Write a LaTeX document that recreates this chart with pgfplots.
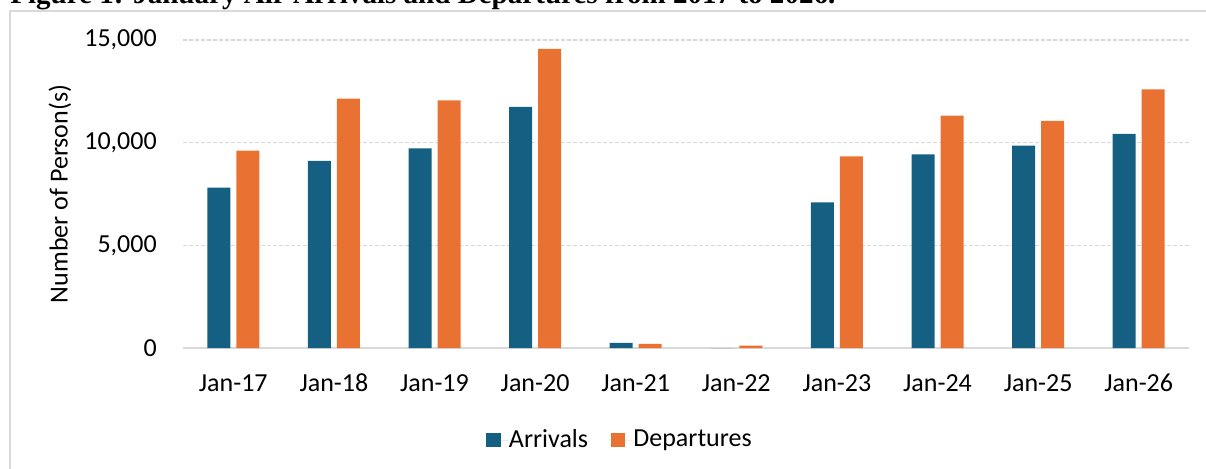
\documentclass[border=0pt]{standalone}
\usepackage{pgfplots}
\pgfplotsset{compat=1.18}
\usepackage{fontspec}
\setmainfont{Carlito}
\newfontfamily\titlefont{Liberation Serif}
\definecolor{arr}{HTML}{156082}
\definecolor{dep}{HTML}{E97132}
\definecolor{gridc}{HTML}{D9D9D9}
\begin{document}
\begin{tikzpicture}
\fontsize{19.5}{23}\selectfont
% frame
\draw[gridc, line width=1.2pt] (7.5pt,-10pt) -- (7.5pt,342.75pt) -- (930pt,342.75pt);
% title (partly cropped at top, as in the reference)
\node[anchor=base west, inner sep=0pt] at (7.5pt,348pt) {\titlefont\bfseries\fontsize{21.8}{26}\selectfont Figure 1: January Air Arrivals and Departures from 2017 to 2026.};
\begin{axis}[
  at={(137.25pt,90pt)}, anchor=south west,
  scale only axis, width=754.5pt, height=231pt,
  ybar=4.5pt, bar width=17.25pt,
  xmin=-0.5, xmax=9.5, ymin=0, ymax=15000,
  enlarge x limits=false, enlarge y limits=false,
  scaled y ticks=false,
  xtick=data,
  xticklabels={Jan-17,Jan-18,Jan-19,Jan-20,Jan-21,Jan-22,Jan-23,Jan-24,Jan-25,Jan-26},
  ytick={0,5000,10000,15000},
  yticklabels={0,{5,000},{10,000},{15,000}},
  major tick length=0pt,
  xticklabel style={inner sep=0pt, anchor=base, yshift=-32.25pt},
  yticklabel style={inner sep=0pt, anchor=east, xshift=-19.5pt},
  ymajorgrids, grid style={gridc, line width=1.1pt, dash pattern=on 3pt off 1.5pt},
  axis x line*=bottom, axis y line*=left,
  y axis line style={draw=none},
  x axis line style={gridc, line width=1.5pt},
  ylabel={Number of Person(s)},
  ylabel style={at={(axis description cs:-0.1223,0.5)}, anchor=center, inner sep=0pt},
  legend style={at={(axis description cs:0.4334,-0.2987)}, anchor=center, draw=none, fill=none,
    legend columns=2, /tikz/every even column/.append style={column sep=17pt},
    nodes={inner sep=0pt}},
  legend image code/.code={\fill[#1] (0pt,-5.5pt) rectangle (11pt,5.5pt); \path (0pt,0pt) -- (17pt,0pt);},
]
\addplot[fill=arr, draw=none] coordinates {(0,7808) (1,9108) (2,9726) (3,11739) (4,244) (5,0) (6,7097) (7,9433) (8,9856) (9,10424)};
\addplot[fill=dep, draw=none] coordinates {(0,9610) (1,12143) (2,12064) (3,14564) (4,195) (5,110) (6,9336) (7,11317) (8,11057) (9,12599)};
\legend{Arrivals,Departures}
\end{axis}
\pgfresetboundingbox
\path[use as bounding box] (0,0) rectangle (904.5pt,351pt);
\end{tikzpicture}
\end{document}
